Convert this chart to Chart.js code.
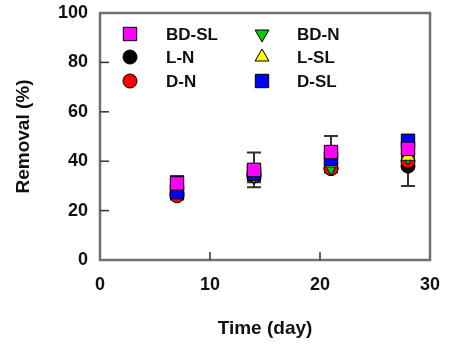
<!DOCTYPE html>
<html>
<head>
<meta charset="utf-8">
<script src="https://cdn.jsdelivr.net/npm/chart.js@4.4.1/dist/chart.umd.min.js"></script>
<style>
html,body{margin:0;padding:0;background:#fff;}
#wrap{width:450px;height:344px;position:relative;}
</style>
</head>
<body>
<div id="wrap"><canvas id="c"></canvas></div>
<script>
// sampling days
const days = [7, 14, 21, 28];
// removal (%) per series
const bdSL = [31, 36.5, 43.7, 45];
const lN   = [27, 35, 37, 38];
const dN   = [26, 34, 37, 40];
const bdN  = [28, 34, 37.5, 41.7];
const lSL  = [28, 35, 39.3, 42];
const dSL  = [27.5, 35, 41, 48.2];
// error bar half-widths
const bdSLErr = [3, 7, 6.5, 3];
const lNErr   = [1.5, 3.5, 1.5, 8];
const dNErr   = [1.5, 2, 1.5, 1];
const bdNErr  = [1, 2, 1.5, 1];
const lSLErr  = [1, 2, 1.5, 1];
const dSLErr  = [2, 3, 2, 2.5];
const xTicks = [0, 10, 20, 30];
const yTicks = [0, 20, 40, 60, 80, 100];

const FONT = "'Liberation Sans', Arial, sans-serif";

function pts(v){return days.map((d,i)=>({x:d,y:v[i]}));}

// draw order: first dataset ends up on top
const series = [
  {label:'BD-SL', data:bdSL, err:bdSLErr, style:'rect', r:9.5, color:'#ff00ff', rot:0},
  {label:'D-SL',  data:dSL,  err:dSLErr,  style:'rect', r:9.5, color:'#0000ff', rot:0},
  {label:'L-SL',  data:lSL,  err:lSLErr,  style:'triangle', r:8, color:'#ffff00', rot:0},
  {label:'BD-N',  data:bdN,  err:bdNErr,  style:'triangle', r:8, color:'#00cc00', rot:180},
  {label:'D-N',   data:dN,   err:dNErr,   style:'circle', r:7, color:'#ff0000', rot:0},
  {label:'L-N',   data:lN,   err:lNErr,   style:'circle', r:7, color:'#000000', rot:0}
];
const legendOrder = [['BD-SL','BD-N'],['L-N','L-SL'],['D-N','D-SL']];

const errorBars = {
  id:'errorBars',
  beforeDatasetsDraw(chart){
    const ctx=chart.ctx, xs=chart.scales.x, ys=chart.scales.y;
    ctx.save();ctx.strokeStyle='#333';ctx.lineWidth=2;
    for(let k=series.length-1;k>=0;k--){
      const s=series[k];
      days.forEach((d,i)=>{
        const px=xs.getPixelForValue(d);
        const t=ys.getPixelForValue(s.data[i]+s.err[i]);
        const b=ys.getPixelForValue(s.data[i]-s.err[i]);
        ctx.beginPath();
        ctx.moveTo(px,t);ctx.lineTo(px,b);
        ctx.moveTo(px-7,t);ctx.lineTo(px+7,t);
        ctx.moveTo(px-7,b);ctx.lineTo(px+7,b);
        ctx.stroke();
      });
    }
    ctx.restore();
  }
};

const frame = {
  id:'frame',
  afterDraw(chart){
    const ctx=chart.ctx, a=chart.chartArea, xs=chart.scales.x, ys=chart.scales.y;
    ctx.save();
    ctx.strokeStyle='#707070';ctx.lineWidth=2.5;
    ctx.strokeRect(a.left,a.top,a.right-a.left,a.bottom-a.top);
    ctx.strokeStyle='#333';ctx.lineWidth=1.5;
    yTicks.slice(1,-1).forEach(v=>{const y=ys.getPixelForValue(v);ctx.beginPath();ctx.moveTo(a.left,y);ctx.lineTo(a.left+9,y);ctx.stroke();});
    xTicks.slice(1,-1).forEach(v=>{const x=xs.getPixelForValue(v);ctx.beginPath();ctx.moveTo(x,a.bottom);ctx.lineTo(x,a.bottom-8);ctx.stroke();});
    // legend
    ctx.font='bold 17px '+FONT;ctx.textBaseline='middle';ctx.textAlign='left';
    const rows=[34,57,81], mx=[130,262], tx=[166,297];
    legendOrder.forEach((row,ri)=>row.forEach((name,ci)=>{
      const s=series.find(q=>q.label===name);
      ctx.fillStyle=s.color;ctx.strokeStyle='#000';ctx.lineWidth=1;
      Chart.helpers.drawPoint(ctx,{pointStyle:s.style,radius:s.r,rotation:s.rot,borderWidth:1},mx[ci],rows[ri]);
      ctx.fillStyle='#111';
      ctx.fillText(name,tx[ci],rows[ri]+1);
    }));
    ctx.restore();
  }
};

new Chart(document.getElementById('c'),{
  type:'scatter',
  data:{datasets:series.map(s=>({
    label:s.label,data:pts(s.data),pointStyle:s.style,pointRadius:s.r,pointHoverRadius:s.r,
    pointRotation:s.rot,backgroundColor:s.color,borderColor:'#000',borderWidth:1
  }))},
  options:{
    responsive:true,maintainAspectRatio:false,animation:false,
    layout:{padding:{top:13,right:20,left:0,bottom:0}},
    plugins:{legend:{display:false},tooltip:{enabled:false}},
    scales:{
      x:{type:'linear',min:0,max:30,
        afterBuildTicks(sc){sc.ticks=xTicks.map(v=>({value:v}));},
        afterFit(sc){sc.height=84;sc.paddingLeft=0;sc.paddingRight=0;},
        grid:{display:false,drawTicks:false},border:{display:false},
        ticks:{padding:14,color:'#111',font:{family:FONT,size:18,weight:'bold'}},
        title:{display:true,text:'Time (day)',color:'#111',padding:{top:18},font:{family:FONT,size:19,weight:'bold'}}},
      y:{min:0,max:100,
        afterBuildTicks(sc){sc.ticks=yTicks.map(v=>({value:v}));},
        afterFit(sc){sc.width=100;sc.paddingTop=0;sc.paddingBottom=0;},
        grid:{display:false,drawTicks:false},border:{display:false},
        ticks:{padding:12,color:'#111',font:{family:FONT,size:18,weight:'bold'}},
        title:{display:true,text:'Removal (%)',color:'#111',padding:{bottom:0,top:12},font:{family:FONT,size:19,weight:'bold'}}}
    }
  },
  plugins:[errorBars,frame]
});
</script>
</body>
</html>
